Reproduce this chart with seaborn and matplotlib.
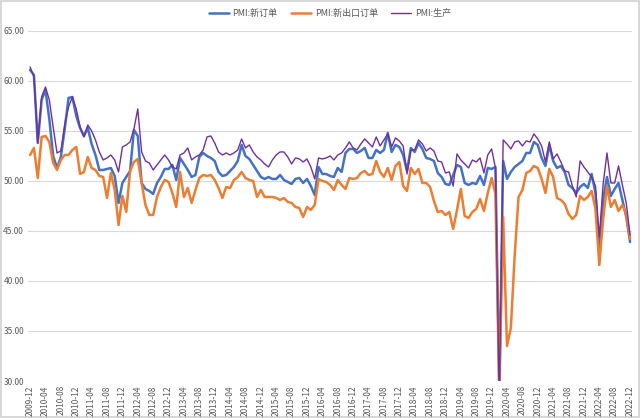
import pandas as pd
import matplotlib
matplotlib.use("Agg")
import matplotlib.pyplot as plt
import seaborn as sns

# --- Data (monthly, 2009-12 .. 2022-12) ---
new_orders = [
    61.1,
    60.6, 53.8, 58.1, 59.1, 56.2, 52.5, 51.3, 52.4, 55.2, 58.3, 58.4, 56.5,
    55.3, 54.5, 55.3, 53.7, 52.6, 51.1, 51.1, 51.2, 51.3, 50.5, 47.8, 49.8,
    50.4, 51.0, 55.1, 54.5, 49.8, 49.2, 49.0, 48.7, 49.8, 50.4, 51.2, 51.2,
    51.6, 50.1, 52.3, 51.7, 51.1, 50.4, 50.6, 52.4, 52.8, 52.5, 52.3, 52.0,
    50.9, 50.5, 50.6, 51.0, 51.4, 52.0, 53.6, 52.5, 52.2, 51.6, 51.0, 50.4,
    50.2, 50.4, 50.2, 50.2, 50.6, 50.1, 49.9, 49.7, 50.2, 50.3, 49.8, 50.2,
    49.5, 48.6, 51.4, 50.7, 50.7, 50.5, 50.4, 51.3, 50.9, 52.8, 53.2, 53.2,
    52.8, 53.0, 53.3, 52.3, 52.3, 53.1, 52.8, 53.1, 54.8, 52.9, 53.6, 53.4,
    52.6, 51.0, 53.3, 52.9, 53.8, 53.2, 52.3, 52.2, 52.0, 50.8, 50.4, 49.7,
    49.6, 50.6, 51.6, 51.4, 49.8, 49.6, 49.8, 49.7, 50.5, 49.6, 51.3, 51.2,
    51.4, 29.3, 52.0, 50.2, 50.9, 51.4, 51.7, 52.0, 52.8, 52.8, 53.9, 53.6,
    52.3, 51.5, 53.6, 52.0, 51.3, 51.5, 50.9, 49.6, 49.3, 48.8, 49.4, 49.7,
    49.3, 50.7, 48.8, 42.6, 48.2, 50.4, 48.5, 49.2, 49.8, 48.1, 46.4, 43.9,
]
export_orders = [
    52.6,
    53.3, 50.3, 54.4, 54.5, 53.9, 51.8, 51.1, 52.1, 52.6, 52.6, 53.1, 53.4,
    50.7, 50.9, 52.4, 51.3, 51.1, 50.5, 50.4, 48.3, 50.8, 49.1, 45.6, 48.5,
    46.9, 51.0, 51.9, 52.2, 49.8, 47.6, 46.6, 46.6, 48.4, 49.4, 50.1, 49.9,
    48.8, 47.4, 50.9, 48.4, 49.3, 47.8, 49.1, 50.3, 50.6, 50.5, 50.6, 50.1,
    49.3, 48.3, 49.4, 49.3, 50.1, 50.4, 50.9, 50.3, 50.1, 50.0, 48.4, 49.1,
    48.4, 48.4, 48.4, 48.3, 48.1, 48.3, 47.9, 47.8, 47.4, 47.3, 46.4, 47.4,
    47.1, 47.6, 50.2, 50.0, 49.9, 49.6, 49.1, 50.1, 49.6, 49.2, 50.3, 50.2,
    50.3, 50.8, 51.0, 50.6, 50.7, 52.0, 50.9, 50.4, 51.3, 50.1, 51.5, 51.9,
    49.5, 49.0, 51.3, 50.7, 51.2, 49.8, 49.8, 49.4, 48.0, 46.9, 47.0, 46.6,
    46.9, 45.2, 47.1, 49.2, 46.5, 46.3, 46.9, 47.2, 48.2, 47.0, 48.8, 50.3,
    48.7, 28.7, 46.4, 33.5, 35.3, 42.6, 48.4, 49.1, 50.8, 51.0, 51.5, 51.3,
    50.2, 48.8, 51.2, 50.4, 48.3, 48.1, 47.7, 46.7, 46.2, 46.6, 48.5, 48.1,
    48.4, 49.0, 47.2, 41.6, 46.2, 49.5, 47.4, 48.1, 47.0, 47.6, 46.7, 44.2,
]
production = [
    61.4,
    60.4, 53.8, 58.4, 59.4, 58.1, 55.4, 52.8, 53.0, 55.6, 57.4, 58.4, 57.2,
    55.4, 54.4, 55.6, 55.0, 54.1, 52.9, 52.1, 52.3, 52.6, 52.1, 50.9, 53.4,
    53.6, 53.9, 55.2, 57.2, 52.9, 52.0, 51.8, 51.1, 51.6, 52.1, 52.6, 52.1,
    51.4, 51.2, 52.6, 52.8, 53.3, 52.1, 52.4, 52.6, 53.1, 54.4, 54.5, 53.8,
    52.9, 52.6, 52.8, 52.6, 52.8, 53.1, 54.2, 53.3, 53.6, 52.9, 52.4, 52.1,
    51.7, 51.4, 52.1, 52.6, 52.9, 52.9, 52.4, 51.7, 52.3, 52.2, 51.9, 52.2,
    51.4, 50.2, 52.3, 52.2, 52.3, 52.5, 52.1, 52.6, 52.8, 53.3, 53.9, 53.3,
    53.1, 53.7, 54.2, 53.8, 53.4, 54.4, 53.5, 54.1, 54.7, 53.4, 54.3, 54.0,
    53.5, 50.7, 53.1, 53.1, 54.1, 53.7, 53.0, 53.3, 53.0, 52.0, 51.9, 50.8,
    50.9, 49.5, 52.7, 52.1, 51.7, 51.3, 52.1, 51.9, 52.3, 50.8, 52.6, 53.2,
    51.3, 27.8, 54.1, 53.7, 53.2, 53.9, 54.0, 53.5, 54.0, 53.9, 54.7, 54.2,
    53.5, 51.9, 53.9, 52.2, 52.7, 51.9, 51.0, 50.9, 49.5, 48.4, 52.0, 51.4,
    50.9, 50.4, 49.5, 44.4, 49.7, 52.8, 49.8, 49.8, 51.5, 49.6, 47.8, 44.6,
]
months = pd.period_range("2009-12", "2022-12", freq="M").strftime("%Y-%m").tolist()

df = pd.DataFrame({
    "idx": range(len(months)),
    "PMI:新订单": new_orders,
    "PMI:新出口订单": export_orders,
    "PMI:生产": production,
})

sns.set_style("white")
plt.rcParams["font.family"] = ["Noto Sans CJK SC", "DejaVu Sans"]

fig = plt.figure(figsize=(6.4, 4.18), dpi=100)
fig.patch.set_edgecolor("#d9d9d9")
fig.patch.set_linewidth(1.5)
ax = fig.add_axes([0.044, 0.0885, 0.9435, 0.8375])

# --- Series ---
sns.lineplot(data=df, x="idx", y="PMI:新订单", color="#4472C4", lw=1.8, label="PMI:新订单", ax=ax)
sns.lineplot(data=df, x="idx", y="PMI:新出口订单", color="#ED7D31", lw=1.8, label="PMI:新出口订单", ax=ax)
sns.lineplot(data=df, x="idx", y="PMI:生产", color="#7030A0", lw=1.0, label="PMI:生产", ax=ax)

# --- Axes ---
ax.set_ylim(30, 65)
ax.set_xlim(-0.5, len(months) - 0.5)
ax.set_yticks(range(30, 66, 5))
ax.set_yticklabels([f"{v:.2f}" for v in range(30, 66, 5)])
ax.set_xticks(range(0, len(months), 4))
ax.set_xticklabels(months[::4], rotation=90)
ax.tick_params(axis="both", length=0, labelsize=6, labelcolor="#595959", pad=3)
ax.set_xlabel("")
ax.set_ylabel("")
ax.yaxis.grid(True, color="#d9d9d9", lw=0.8)
ax.set_axisbelow(True)
for s in ax.spines.values():
    s.set_visible(False)

ax.legend(loc="upper center", bbox_to_anchor=(0.5, 1.085), ncol=3, frameon=False,
          fontsize=6.5, handlelength=2.2, columnspacing=1.5, handletextpad=0.4,
          labelcolor="#595959")

plt.savefig("out.png", dpi=100)
